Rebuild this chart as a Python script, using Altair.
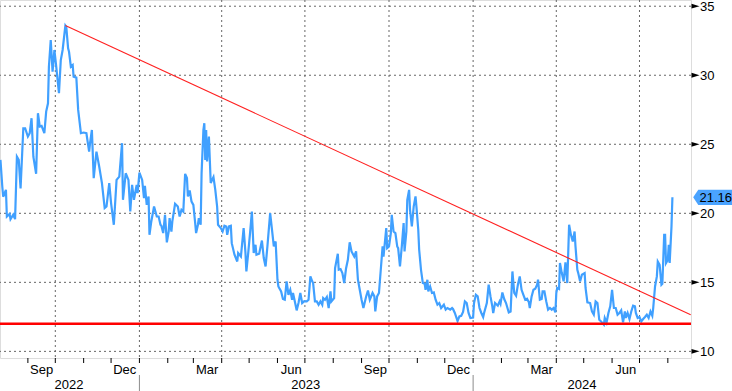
import altair as alt
import pandas as pd

# ---------------- data ----------------
dates = [
    "2022-08-02", "2022-08-04", "2022-08-05", "2022-08-08", "2022-08-09", "2022-08-12", "2022-08-13", "2022-08-16",
    "2022-08-18", "2022-08-20", "2022-08-22", "2022-08-24", "2022-08-27", "2022-08-29", "2022-09-01", "2022-09-03",
    "2022-09-05", "2022-09-07", "2022-09-10", "2022-09-12", "2022-09-14", "2022-09-16", "2022-09-19", "2022-09-21",
    "2022-09-23", "2022-09-24", "2022-09-26", "2022-09-28", "2022-09-30", "2022-10-02", "2022-10-05", "2022-10-07",
    "2022-10-09", "2022-10-12", "2022-10-13", "2022-10-15", "2022-10-16", "2022-10-18", "2022-10-20", "2022-10-21",
    "2022-10-24", "2022-10-26", "2022-10-29", "2022-11-01", "2022-11-04", "2022-11-07", "2022-11-08", "2022-11-10",
    "2022-11-12", "2022-11-15", "2022-11-18", "2022-11-21", "2022-11-24", "2022-11-26", "2022-11-29", "2022-12-01",
    "2022-12-04", "2022-12-07", "2022-12-10", "2022-12-13", "2022-12-14", "2022-12-17", "2022-12-20", "2022-12-22",
    "2022-12-24", "2022-12-26", "2022-12-29", "2022-12-30",
    "2023-01-01", "2023-01-04", "2023-01-06", "2023-01-07", "2023-01-09", "2023-01-11", "2023-01-12", "2023-01-14",
    "2023-01-17", "2023-01-20", "2023-01-22", "2023-01-24", "2023-01-25", "2023-01-27", "2023-01-29", "2023-01-31",
    "2023-02-02", "2023-02-03", "2023-02-05", "2023-02-06", "2023-02-09", "2023-02-12", "2023-02-14", "2023-02-16",
    "2023-02-18", "2023-02-20", "2023-02-22", "2023-02-23", "2023-02-25", "2023-02-27", "2023-03-01", "2023-03-03",
    "2023-03-04", "2023-03-06", "2023-03-07", "2023-03-09", "2023-03-10", "2023-03-12", "2023-03-13", "2023-03-14",
    "2023-03-15", "2023-03-16", "2023-03-18", "2023-03-20", "2023-03-23", "2023-03-25", "2023-03-27", "2023-03-28",
    "2023-03-31", "2023-04-02", "2023-04-04", "2023-04-06", "2023-04-07", "2023-04-09", "2023-04-11", "2023-04-12",
    "2023-04-15", "2023-04-18", "2023-04-19", "2023-04-22", "2023-04-25", "2023-04-27", "2023-04-28", "2023-04-30",
    "2023-05-02", "2023-05-04", "2023-05-06", "2023-05-08", "2023-05-09", "2023-05-12", "2023-05-15", "2023-05-17",
    "2023-05-19", "2023-05-21", "2023-05-24", "2023-05-26", "2023-05-28", "2023-05-30", "2023-06-01", "2023-06-02",
    "2023-06-05", "2023-06-07", "2023-06-09", "2023-06-11", "2023-06-13", "2023-06-15", "2023-06-17", "2023-06-18",
    "2023-06-20", "2023-06-22", "2023-06-24", "2023-06-26", "2023-06-28", "2023-06-30", "2023-07-03", "2023-07-05",
    "2023-07-07", "2023-07-09", "2023-07-10", "2023-07-12", "2023-07-14", "2023-07-16", "2023-07-18", "2023-07-20",
    "2023-07-21", "2023-07-23", "2023-07-25", "2023-07-27", "2023-07-29", "2023-07-30", "2023-08-02", "2023-08-03",
    "2023-08-06", "2023-08-07", "2023-08-09", "2023-08-11", "2023-08-13", "2023-08-15", "2023-08-17", "2023-08-19",
    "2023-08-21", "2023-08-24", "2023-08-26", "2023-08-28", "2023-08-30", "2023-09-01", "2023-09-03", "2023-09-06",
    "2023-09-08", "2023-09-10", "2023-09-13", "2023-09-15", "2023-09-16", "2023-09-18", "2023-09-20", "2023-09-22",
    "2023-09-24", "2023-09-25", "2023-09-28", "2023-09-29", "2023-10-01", "2023-10-03", "2023-10-04", "2023-10-06",
    "2023-10-08", "2023-10-10", "2023-10-11", "2023-10-13", "2023-10-15", "2023-10-17", "2023-10-18", "2023-10-20",
    "2023-10-21", "2023-10-23", "2023-10-24", "2023-10-26", "2023-10-28", "2023-10-30", "2023-10-31", "2023-11-02",
    "2023-11-03", "2023-11-05", "2023-11-07", "2023-11-09", "2023-11-10", "2023-11-12", "2023-11-13", "2023-11-15",
    "2023-11-17", "2023-11-19", "2023-11-21", "2023-11-23", "2023-11-25", "2023-11-27", "2023-11-30", "2023-12-02",
    "2023-12-04", "2023-12-07", "2023-12-09", "2023-12-10", "2023-12-12", "2023-12-15", "2023-12-17", "2023-12-19",
    "2023-12-21", "2023-12-23", "2023-12-25", "2023-12-27", "2023-12-29",
    "2024-01-01", "2024-01-02", "2024-01-04", "2024-01-06", "2024-01-08", "2024-01-10", "2024-01-12", "2024-01-13",
    "2024-01-16", "2024-01-18", "2024-01-20", "2024-01-22", "2024-01-23", "2024-01-25", "2024-01-28", "2024-01-30",
    "2024-01-31", "2024-02-02", "2024-02-04", "2024-02-06", "2024-02-09", "2024-02-11", "2024-02-13", "2024-02-15",
    "2024-02-17", "2024-02-19", "2024-02-21", "2024-02-23", "2024-02-25", "2024-02-27", "2024-02-29", "2024-03-02",
    "2024-03-03", "2024-03-05", "2024-03-07", "2024-03-09", "2024-03-11", "2024-03-12", "2024-03-14", "2024-03-16",
    "2024-03-17", "2024-03-19", "2024-03-21", "2024-03-23", "2024-03-25", "2024-03-27", "2024-03-29", "2024-03-31",
    "2024-04-01", "2024-04-02", "2024-04-04", "2024-04-05", "2024-04-07", "2024-04-09", "2024-04-11", "2024-04-13",
    "2024-04-15", "2024-04-17", "2024-04-19", "2024-04-21", "2024-04-22", "2024-04-24", "2024-04-25", "2024-04-27",
    "2024-04-29", "2024-05-02", "2024-05-03", "2024-05-05", "2024-05-08", "2024-05-10", "2024-05-12", "2024-05-14",
    "2024-05-16", "2024-05-18", "2024-05-20", "2024-05-23", "2024-05-24", "2024-05-26", "2024-05-28", "2024-05-30",
    "2024-06-01", "2024-06-03", "2024-06-05", "2024-06-07", "2024-06-09", "2024-06-11", "2024-06-13", "2024-06-15",
    "2024-06-16", "2024-06-18", "2024-06-20", "2024-06-22", "2024-06-24", "2024-06-26", "2024-06-27", "2024-06-29",
    "2024-07-01", "2024-07-03", "2024-07-05", "2024-07-07", "2024-07-09", "2024-07-11", "2024-07-13", "2024-07-15",
    "2024-07-16", "2024-07-18", "2024-07-20", "2024-07-21", "2024-07-23", "2024-07-25", "2024-07-26", "2024-07-28",
    "2024-07-29", "2024-07-30", "2024-08-01", "2024-08-02", "2024-08-03", "2024-08-05", "2024-08-06",
]
values = [
    23.87, 21.94, 21.2, 21.7, 19.77, 19.96, 19.58, 19.9,
    19.58, 24.1, 23.87, 21.8, 26.16, 26.16, 25.56, 25.8,
    26.89, 24.1, 22.86, 27.25, 26.28, 26.33, 25.8, 27.37,
    27.97, 30.62, 32.55, 30.26, 31.83, 30.62, 28.7, 31.1,
    31.83, 33.6, 33.5, 31.95, 31.7, 30.62, 30.74, 29.9,
    29.83, 27.49, 25.8, 25.85, 25.8, 24.47, 25.08, 26.04,
    22.55, 24.47, 23.39, 22.19, 20.38, 20.49, 22.19, 20.74,
    19.17, 22.42, 22.66, 25.08, 20.98, 22.9, 22.42, 20.13,
    22.06, 20.98, 22.06, 21.46,
    22.95, 22.42, 21.1, 21.99, 20.61, 21.22, 18.44, 19.41,
    20.49, 19.77, 19.77, 19.17, 19.1, 18.57, 19.89, 17.89,
    18.68, 19.65, 18.68, 19.41, 20.69, 20.49, 19.77, 20.25,
    20.13, 22.86, 22.55, 21.22, 21.65, 20.85, 20.61, 19.29,
    18.57, 19.17, 19.65, 19.17, 22.9, 26.04, 26.53, 23.87,
    26.04, 23.75, 25.56, 22.19, 22.62, 21.7, 20.49, 19.17,
    18.93, 18.68, 19.1, 19.05, 18.44, 19.05, 19.1, 17.84,
    17.0, 16.51, 17.12, 16.87, 18.93, 17.12, 15.79, 17.12,
    18.57, 20.13, 17.12, 17.72, 17.0, 17.07, 18.03, 16.76,
    16.15, 17.6, 20.01, 18.81, 17.6, 17.96, 15.19, 14.7,
    14.34, 13.79, 13.74, 15.07, 14.1, 14.46, 13.74, 14.23,
    13.62, 12.97, 13.5, 14.23, 13.5, 13.62, 13.62, 13.74,
    15.43, 15.07, 14.95, 13.62, 13.62, 13.38, 13.62, 13.38,
    13.86, 13.74, 13.94, 13.14, 14.34, 13.62, 13.86, 16.03,
    17.07, 15.91, 15.96, 15.67, 14.95, 16.0, 16.63, 17.9,
    17.24, 16.87, 17.24, 15.19, 14.46, 13.74, 13.14, 13.98,
    14.41, 13.74, 14.23, 13.98, 12.89, 13.98, 14.23, 15.91,
    17.6, 16.87, 18.93, 17.48, 17.6, 18.57, 19.89, 18.68,
    18.57, 17.6, 17.48, 16.15, 17.6, 19.29, 17.24, 18.68,
    20.98, 21.7, 20.25, 19.05, 20.49, 21.22, 20.49, 18.81,
    17.36, 15.91, 14.95, 14.9, 14.46, 15.19, 14.34, 14.7,
    14.23, 14.27, 13.74, 13.38, 13.5, 13.14, 13.38, 13.02,
    13.14, 13.02, 13.14, 13.07, 12.78, 12.2, 12.53, 12.58,
    12.85, 13.62, 13.5, 12.78, 12.42,
    12.45, 13.5, 14.1, 13.98, 13.14, 12.78, 12.49, 12.78,
    13.5, 14.83, 13.98, 13.26, 12.78, 13.5, 13.31, 13.62,
    13.45, 14.27, 13.79, 13.5, 12.82, 12.89, 15.79, 14.23,
    14.03, 14.83, 15.43, 14.46, 14.1, 13.74, 13.81, 13.55,
    13.14, 13.98, 14.46, 14.54, 14.83, 15.19, 13.74, 13.79,
    14.34, 14.34, 13.62, 13.02, 13.14, 13.02, 13.14, 12.82,
    14.23, 14.59, 14.52, 16.4, 15.67, 15.07, 16.44, 14.95,
    19.17, 18.44, 17.96, 18.68, 17.6, 15.91, 15.67, 15.07,
    15.55, 15.67, 14.59, 13.55, 13.5, 12.89, 12.66, 13.62,
    13.5, 12.29, 12.17, 11.93, 12.42, 12.1, 12.78, 13.26,
    14.46, 13.14, 13.14, 12.66, 12.78, 12.97, 12.1, 12.89,
    12.42, 12.78, 12.34, 12.89, 13.31, 13.26, 12.78, 12.42,
    12.49, 12.17, 12.34, 12.49, 12.66, 12.42, 12.89, 12.58,
    13.14, 14.7, 15.43, 16.51, 16.27, 14.83, 14.9, 18.44,
    18.44, 16.4, 16.63, 17.72, 16.4, 19.05, 21.16,
]

trend_dates = ["2022-10-12", "2024-08-26"]
trend_values = [33.6, 12.66]
support_level = [12.0]
last_date = ["2024-08-06"]
last_value = [21.16]
last_label = ["21.16"]

y_major = [10, 15, 20, 25, 30, 35]
y_major_labels = ["10", "15", "20", "25", "30", "35"]
y_ticks = [10, 12.5, 15, 17.5, 20, 22.5, 25, 27.5, 30, 32.5, 35]
quarter_starts = ["2022-10-01", "2023-01-01", "2023-04-01", "2023-07-01",
                  "2023-10-01", "2024-01-01", "2024-04-01", "2024-07-01"]
month_starts = [
    "2022-09-01", "2022-10-01", "2022-11-01", "2022-12-01", "2023-01-01", "2023-02-01",
    "2023-03-01", "2023-04-01", "2023-05-01", "2023-06-01", "2023-07-01", "2023-08-01",
    "2023-09-01", "2023-10-01", "2023-11-01", "2023-12-01", "2024-01-01", "2024-02-01",
    "2024-03-01", "2024-04-01", "2024-05-01", "2024-06-01", "2024-07-01", "2024-08-01",
]
month_label_dates = ["2022-09-16", "2022-12-16", "2023-03-16", "2023-06-16",
                     "2023-09-16", "2023-12-16", "2024-03-16", "2024-06-16"]
month_labels = ["Sep", "Dec", "Mar", "Jun", "Sep", "Dec", "Mar", "Jun"]
year_label_dates = ["2022-10-16", "2023-07-02", "2024-04-29"]
year_labels = ["2022", "2023", "2024"]
year_breaks = ["2023-01-01", "2024-01-01"]

# ---------------- chart ----------------
FONT = "Liberation Sans"
BLUE = "#40a0ff"
RED = "#ff0000"
GRID = "#666666"

x_scale = alt.Scale(
    domain=[alt.DateTime(year=2022, month=8, date=1, hours=12, utc=True),
            alt.DateTime(year=2024, month=8, date=26, hours=8, utc=True)],
    nice=False,
)
y_scale = alt.Scale(domain=[9.52, 35.45], nice=False, zero=False)

df = pd.DataFrame({"date": dates, "value": values})
trend_df = pd.DataFrame({"date": trend_dates, "value": trend_values})
major_df = pd.DataFrame({"v": y_major, "t": y_major_labels})

hgrid = alt.Chart(major_df).mark_rule(
    color=GRID, strokeDash=[2, 3], strokeWidth=1
).encode(y=alt.Y("v:Q", scale=y_scale, axis=None))

vgrid = alt.Chart(pd.DataFrame({"d": quarter_starts})).mark_rule(
    color=GRID, strokeDash=[2, 3], strokeWidth=1
).encode(x=alt.X("d:T", scale=x_scale, axis=None))

line = alt.Chart(df).mark_line(color=BLUE, strokeWidth=2.2).encode(
    x=alt.X("date:T", scale=x_scale,
            axis=alt.Axis(labels=False, ticks=False, grid=False, title=None,
                          domainColor="black", domainWidth=1)),
    y=alt.Y("value:Q", scale=y_scale,
            axis=alt.Axis(orient="right", values=y_ticks, grid=False, title=None,
                          labels=False, tickSize=4, tickColor="black", tickWidth=1,
                          domainColor="black", domainWidth=1)),
)

support = alt.Chart(pd.DataFrame({"v": support_level})).mark_rule(
    color=RED, strokeWidth=2.6
).encode(y=alt.Y("v:Q", scale=y_scale, axis=None))

trend = alt.Chart(trend_df).mark_line(color="#ff2020", strokeWidth=1.1).encode(
    x=alt.X("date:T", scale=x_scale, axis=None),
    y=alt.Y("value:Q", scale=y_scale, axis=None),
)

triangles = alt.Chart(major_df).mark_point(
    shape="M-1,-0.6L1,0L-1,0.6Z", filled=True, color="black", opacity=1, size=64
).encode(x=alt.value(695.5), y=alt.Y("v:Q", scale=y_scale, axis=None))

ytext = alt.Chart(major_df).mark_text(
    align="left", baseline="middle", font=FONT, fontSize=13, color="black", dy=1
).encode(x=alt.value(700), y=alt.Y("v:Q", scale=y_scale, axis=None), text="t:N")

tag_df = pd.DataFrame({"date": last_date, "value": last_value, "label": last_label})
tag = alt.Chart(tag_df).mark_point(
    shape="M-1,0L-0.74,-0.39L1,-0.39L1,0.39L-0.74,0.39Z", filled=True,
    color="#4aa3ff", opacity=1, size=1521
).encode(x=alt.value(712.7), y=alt.Y("value:Q", scale=y_scale, axis=None))
tag_text = alt.Chart(tag_df).mark_text(
    align="left", baseline="middle", font=FONT, fontSize=13, color="black", dy=1
).encode(x=alt.value(699.5), y=alt.Y("value:Q", scale=y_scale, axis=None), text="label:N")

mticks = alt.Chart(pd.DataFrame({"d": month_starts})).mark_rule(
    color="black", strokeWidth=1
).encode(x=alt.X("d:T", scale=x_scale, axis=None), y=alt.value(358), y2=alt.value(363))

mlabels = alt.Chart(pd.DataFrame({"d": month_label_dates, "t": month_labels})).mark_text(
    align="center", baseline="alphabetic", font=FONT, fontSize=13, color="black"
).encode(x=alt.X("d:T", scale=x_scale, axis=None), y=alt.value(373.5), text="t:N")

ylabels = alt.Chart(pd.DataFrame({"d": year_label_dates, "t": year_labels})).mark_text(
    align="center", baseline="alphabetic", font=FONT, fontSize=13, color="black"
).encode(x=alt.X("d:T", scale=x_scale, axis=None), y=alt.value(389), text="t:N")

ybreaks = alt.Chart(pd.DataFrame({"d": year_breaks})).mark_rule(
    color="#8c8c8c", strokeWidth=1
).encode(x=alt.X("d:T", scale=x_scale, axis=None), y=alt.value(375), y2=alt.value(391))

chart = alt.layer(
    hgrid, vgrid, line, support, trend, triangles, ytext, tag, tag_text,
    mticks, mlabels, ylabels, ybreaks,
).properties(
    width=691, height=358,
    autosize=alt.AutoSizeParams(type="none"),
    padding={"left": 0, "top": 0, "right": 41, "bottom": 33},
    background="white",
).configure_view(stroke=None).configure(font=FONT)

chart.save("out.html", embed_options={"renderer": "svg", "actions": False})
